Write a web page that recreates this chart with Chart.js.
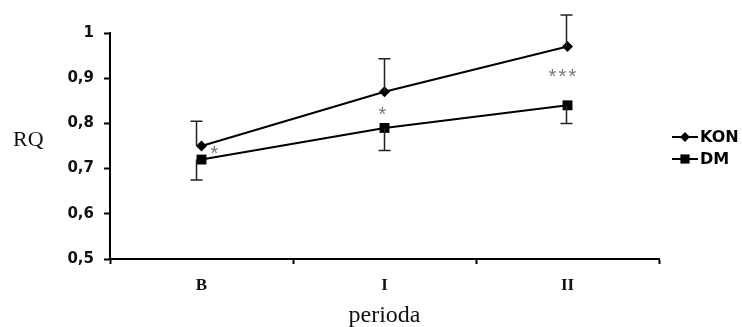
<!DOCTYPE html>
<html>
<head>
<meta charset="utf-8">
<script src="https://cdn.jsdelivr.net/npm/chart.js@4/dist/chart.umd.min.js"></script>
<style>
  html, body { margin: 0; padding: 0; background: #fff; }
  #wrap { width: 742px; height: 327px; }
</style>
</head>
<body>
<div id="wrap"><canvas id="rq-chart" width="742" height="327"></canvas></div>
<script>
// periods on the x axis
const periods = ['B', 'I', 'II'];

// mean RQ per group
const konValues = [0.75, 0.87, 0.97];
const dmValues = [0.72, 0.79, 0.84];

// one-sided error bars (KON upwards, DM downwards)
const konErrUp = [0.055, 0.073, 0.07];
const dmErrDown = [0.045, 0.05, 0.04];

// significance marks and the RQ level they sit at
const sigLabels = ['*', '*', '***'];
const sigLevels = [0.743, 0.83, 0.914];

// y axis ticks
const yTicks = [0.5, 0.6, 0.7, 0.8, 0.9, 1];

const fmtComma = v => (v === 1 ? '1' : v.toFixed(1).replace('.', ','));

// error bars + asterisks drawn on top of the lines
const errorBarsPlugin = {
  id: 'errorBars',
  afterDatasetsDraw(chart) {
    const ctx = chart.ctx;
    const x = chart.scales.x;
    const y = chart.scales.y;
    const errDx = [-5, 0, -1];
    const cap = 6;
    ctx.save();
    ctx.strokeStyle = '#222';
    ctx.lineWidth = 1.5;
    periods.forEach((p, i) => {
      const px = x.getPixelForValue(i) + errDx[i];
      // KON upper whisker
      const kTop = y.getPixelForValue(konValues[i] + konErrUp[i]);
      const kMid = y.getPixelForValue(konValues[i]);
      ctx.beginPath();
      ctx.moveTo(px, kMid);
      ctx.lineTo(px, kTop);
      ctx.moveTo(px - cap, kTop);
      ctx.lineTo(px + cap, kTop);
      ctx.stroke();
      // DM lower whisker
      const dBot = y.getPixelForValue(dmValues[i] - dmErrDown[i]);
      const dMid = y.getPixelForValue(dmValues[i]);
      ctx.beginPath();
      ctx.moveTo(px, dMid);
      ctx.lineTo(px, dBot);
      ctx.moveTo(px - cap, dBot);
      ctx.lineTo(px + cap, dBot);
      ctx.stroke();
    });

    // asterisks, one glyph at a time so they keep an even spacing
    const starDx = [13, -2, -5];
    const gap = 10;
    ctx.fillStyle = '#777';
    ctx.font = '20px "Liberation Sans", Arial, sans-serif';
    ctx.textAlign = 'center';
    ctx.textBaseline = 'alphabetic';
    sigLabels.forEach((s, i) => {
      const cx = x.getPixelForValue(i) + starDx[i];
      const sy = y.getPixelForValue(sigLevels[i]) + 11;
      const n = s.length;
      for (let k = 0; k < n; k++) {
        ctx.fillText('*', cx + (k - (n - 1) / 2) * gap, sy);
      }
    });
    ctx.restore();
  }
};

// horizontal "RQ" axis label and the legend on the right
const sideTextPlugin = {
  id: 'sideText',
  afterDraw(chart) {
    const ctx = chart.ctx;
    ctx.save();
    ctx.fillStyle = '#111';
    ctx.font = '22px "Liberation Serif", "Times New Roman", serif';
    ctx.textAlign = 'left';
    ctx.textBaseline = 'alphabetic';
    ctx.fillText('RQ', 13, 146);

    const items = chart.data.datasets;
    const lx = 672, lw = 26;
    items.forEach((ds, i) => {
      const ly = 137 + i * 22;
      ctx.strokeStyle = '#000';
      ctx.lineWidth = 2;
      ctx.beginPath();
      ctx.moveTo(lx, ly);
      ctx.lineTo(lx + lw, ly);
      ctx.stroke();
      ctx.fillStyle = '#000';
      Chart.helpers.drawPoint(ctx, {
        pointStyle: ds.pointStyle,
        radius: ds.legendRadius,
        borderWidth: 0
      }, lx + lw / 2, ly);
      ctx.fillStyle = '#000';
      ctx.font = 'bold 16px "DejaVu Sans", Verdana, sans-serif';
      ctx.textBaseline = 'middle';
      ctx.fillText(ds.label, lx + lw + 2, ly + 1);
    });
    ctx.restore();
  }
};

new Chart(document.getElementById('rq-chart'), {
  type: 'line',
  data: {
    labels: periods,
    datasets: [{
      label: 'KON',
      data: konValues,
      borderColor: '#000',
      backgroundColor: '#000',
      borderWidth: 2,
      pointStyle: 'rectRot',
      pointRadius: 5.5,
      legendRadius: 5,
      pointBorderWidth: 0,
      tension: 0
    }, {
      label: 'DM',
      data: dmValues,
      borderColor: '#000',
      backgroundColor: '#000',
      borderWidth: 2,
      pointStyle: 'rect',
      pointRadius: 7,
      legendRadius: 6.5,
      pointBorderWidth: 0,
      tension: 0
    }]
  },
  options: {
    responsive: false,
    animation: false,
    events: [],
    layout: { padding: { left: 0, top: 33, right: 83, bottom: 0 } },
    plugins: {
      legend: { display: false },
      tooltip: { enabled: false }
    },
    scales: {
      x: {
        offset: true,
        grid: {
          offset: true,
          drawOnChartArea: false,
          drawTicks: true,
          tickLength: 5,
          tickWidth: 2,
          tickColor: '#000'
        },
        border: { display: true, color: '#000', width: 2 },
        ticks: {
          color: '#111',
          padding: 11,
          font: { family: '"Liberation Serif", "Times New Roman", serif', size: 17, weight: 'bold' }
        },
        title: {
          display: true,
          text: 'perioda',
          color: '#111',
          padding: { top: 0, bottom: -3 },
          font: { family: '"Liberation Serif", "Times New Roman", serif', size: 24 }
        },
        afterFit(scale) { scale.height = 68; }
      },
      y: {
        min: 0.5,
        max: 1,
        afterBuildTicks(scale) { scale.ticks = yTicks.map(v => ({ value: v })); },
        grid: {
          drawOnChartArea: false,
          drawTicks: true,
          tickLength: 6,
          tickWidth: 2,
          tickColor: '#000'
        },
        border: { display: true, color: '#000', width: 2 },
        ticks: {
          color: '#111',
          padding: 10,
          callback: v => fmtComma(v),
          font: { family: '"DejaVu Sans", Verdana, sans-serif', size: 15, weight: 'bold' }
        },
        afterFit(scale) { scale.width = 110; }
      }
    }
  },
  plugins: [errorBarsPlugin, sideTextPlugin]
});
</script>
</body>
</html>
